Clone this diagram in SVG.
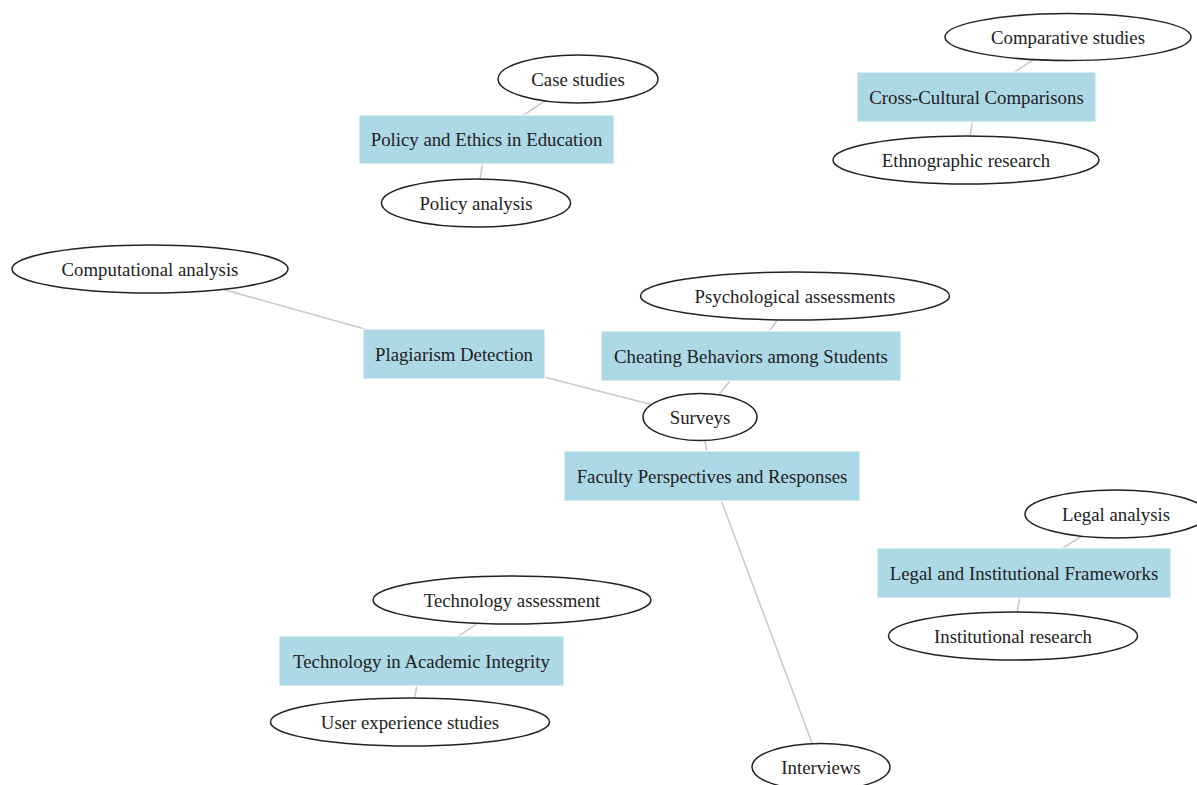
<svg xmlns="http://www.w3.org/2000/svg" width="1197" height="785" viewBox="0 0 1197 785">
<style>
.link{stroke:#c8c8c8;stroke-width:1.5;fill:none}
.topic rect{fill:#ADD8E6;stroke:#ffffff;stroke-width:1}
.method ellipse{fill:#ffffff;stroke:#222;stroke-width:1.5}
text{font-family:"Liberation Serif","Times New Roman",serif;font-size:18.8px;fill:#222;text-anchor:middle;dominant-baseline:central}
</style>
<rect width="1197" height="785" fill="#ffffff"/>
<g id="links">
<line class="link" x1="578" y1="79" x2="486.5" y2="139.5"/>
<line class="link" x1="476" y1="203" x2="486.5" y2="139.5"/>
<line class="link" x1="1068" y1="37" x2="976.5" y2="97"/>
<line class="link" x1="966" y1="160" x2="976.5" y2="97"/>
<line class="link" x1="150" y1="269" x2="454" y2="354"/>
<line class="link" x1="454" y1="354" x2="700" y2="417"/>
<line class="link" x1="795" y1="296" x2="751" y2="356"/>
<line class="link" x1="751" y1="356" x2="700" y2="417"/>
<line class="link" x1="700" y1="417" x2="712" y2="476"/>
<line class="link" x1="712" y1="476" x2="821" y2="767"/>
<line class="link" x1="1116" y1="514" x2="1024" y2="573"/>
<line class="link" x1="1013" y1="636" x2="1024" y2="573"/>
<line class="link" x1="512" y1="600" x2="421.5" y2="661"/>
<line class="link" x1="410" y1="722" x2="421.5" y2="661"/>
</g>
<g id="n-policy" class="topic"><rect x="359" y="115" width="255" height="49"/><text x="486.5" y="139.5">Policy and Ethics in Education</text></g>
<g id="n-cross" class="topic"><rect x="857" y="72" width="239" height="50"/><text x="976.5" y="97">Cross-Cultural Comparisons</text></g>
<g id="n-plag" class="topic"><rect x="363" y="329" width="182" height="50"/><text x="454" y="354">Plagiarism Detection</text></g>
<g id="n-cheat" class="topic"><rect x="601" y="331" width="300" height="50"/><text x="751" y="356">Cheating Behaviors among Students</text></g>
<g id="n-faculty" class="topic"><rect x="564" y="451" width="296" height="50"/><text x="712" y="476">Faculty Perspectives and Responses</text></g>
<g id="n-legal" class="topic"><rect x="877" y="548" width="294" height="50"/><text x="1024" y="573">Legal and Institutional Frameworks</text></g>
<g id="n-tech" class="topic"><rect x="279" y="636" width="285" height="50"/><text x="421.5" y="661">Technology in Academic Integrity</text></g>
<g id="m-case" class="method"><ellipse cx="578" cy="79" rx="80" ry="24"/><text x="578" y="79">Case studies</text></g>
<g id="m-policyan" class="method"><ellipse cx="476" cy="203" rx="94.5" ry="24"/><text x="476" y="203">Policy analysis</text></g>
<g id="m-comp" class="method"><ellipse cx="1068" cy="37" rx="123" ry="23.5"/><text x="1068" y="37">Comparative studies</text></g>
<g id="m-ethno" class="method"><ellipse cx="966" cy="160" rx="133" ry="24"/><text x="966" y="160">Ethnographic research</text></g>
<g id="m-computational" class="method"><ellipse cx="150" cy="269" rx="138" ry="24"/><text x="150" y="269">Computational analysis</text></g>
<g id="m-psych" class="method"><ellipse cx="795" cy="296" rx="154.5" ry="24"/><text x="795" y="296">Psychological assessments</text></g>
<g id="m-surveys" class="method"><ellipse cx="700" cy="417" rx="57" ry="23.5"/><text x="700" y="417">Surveys</text></g>
<g id="m-interviews" class="method"><ellipse cx="821" cy="767" rx="69" ry="23.5"/><text x="821" y="767">Interviews</text></g>
<g id="m-legalan" class="method"><ellipse cx="1116" cy="514" rx="91" ry="24"/><text x="1116" y="514">Legal analysis</text></g>
<g id="m-inst" class="method"><ellipse cx="1013" cy="636" rx="124.5" ry="24"/><text x="1013" y="636">Institutional research</text></g>
<g id="m-techass" class="method"><ellipse cx="512" cy="600" rx="139" ry="24"/><text x="512" y="600">Technology assessment</text></g>
<g id="m-ux" class="method"><ellipse cx="410" cy="722" rx="139.5" ry="24"/><text x="410" y="722">User experience studies</text></g>
</svg>
